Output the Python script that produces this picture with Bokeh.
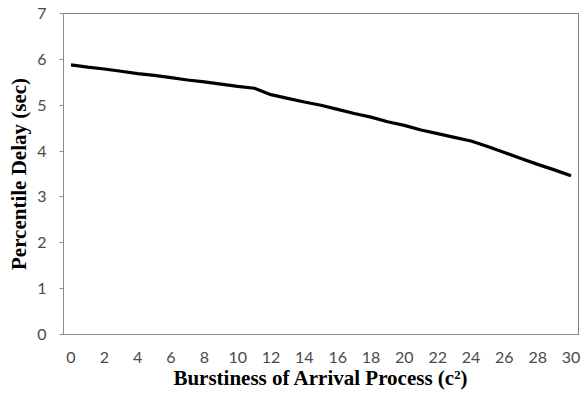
from bokeh.plotting import figure
from bokeh.models import Range1d, FixedTicker
from bokeh.embed import file_html
from bokeh.resources import INLINE

# Burstiness (c^2) categories and the percentile delay in seconds
burstiness = [0, 1, 2, 3, 4, 5, 6, 7, 8, 9, 10, 11, 12, 13, 14, 15,
              16, 17, 18, 19, 20, 21, 22, 23, 24, 25, 26, 27, 28, 29, 30]
delay_sec = [5.88, 5.83, 5.79, 5.74, 5.69, 5.65, 5.60, 5.55, 5.51, 5.46,
             5.41, 5.37, 5.23, 5.15, 5.07, 5.00, 4.91, 4.82, 4.74, 4.64,
             4.56, 4.46, 4.38, 4.30, 4.22, 4.10, 3.97, 3.84, 3.71, 3.59, 3.46]
x_tick_values = [0, 2, 4, 6, 8, 10, 12, 14, 16, 18, 20, 22, 24, 26, 28, 30]
y_tick_values = [0, 1, 2, 3, 4, 5, 6, 7]

p = figure(width=582, height=398, output_backend="svg", toolbar_location=None,
           x_range=Range1d(-0.45, 30.45), y_range=Range1d(0, 7))
p.min_border_left = 63
p.min_border_right = 4
p.min_border_top = 13
p.min_border_bottom = 64
p.background_fill_color = "white"
p.border_fill_color = "white"
p.outline_line_color = "#7f7f7f"
p.outline_line_width = 1
p.xgrid.visible = False
p.ygrid.visible = False

p.line(burstiness, delay_sec, line_color="black", line_width=3.2)

tick_font = "Lato"
label_font = "Liberation Serif"

xa = p.xaxis[0]
xa.ticker = FixedTicker(ticks=x_tick_values)
xa.major_tick_out = 0
xa.major_tick_in = 0
xa.minor_tick_out = 0
xa.minor_tick_in = 0
xa.axis_line_color = "#8c8c8c"
xa.major_label_text_font = tick_font
xa.major_label_text_font_size = "16px"
xa.major_label_text_color = "#4a4a4a"
xa.major_label_standoff = 17
xa.axis_label = "Burstiness of Arrival Process (c\u00b2)"
xa.axis_label_text_font = label_font
xa.axis_label_text_font_style = "bold"
xa.axis_label_text_font_size = "21px"
xa.axis_label_text_color = "black"
xa.axis_label_standoff = 0

ya = p.yaxis[0]
ya.ticker = FixedTicker(ticks=y_tick_values)
ya.major_tick_out = 4
ya.major_tick_in = 0
ya.minor_tick_out = 0
ya.minor_tick_in = 0
ya.major_tick_line_color = "#8c8c8c"
ya.axis_line_color = "#8c8c8c"
ya.major_label_text_font = tick_font
ya.major_label_text_font_size = "16px"
ya.major_label_text_color = "#4a4a4a"
ya.major_label_standoff = 13
ya.axis_label = "Percentile Delay (sec)"
ya.axis_label_text_font = label_font
ya.axis_label_text_font_style = "bold"
ya.axis_label_text_font_size = "21px"
ya.axis_label_text_color = "black"
ya.axis_label_standoff = 3

open("out.html", "w").write(file_html(p, INLINE))
